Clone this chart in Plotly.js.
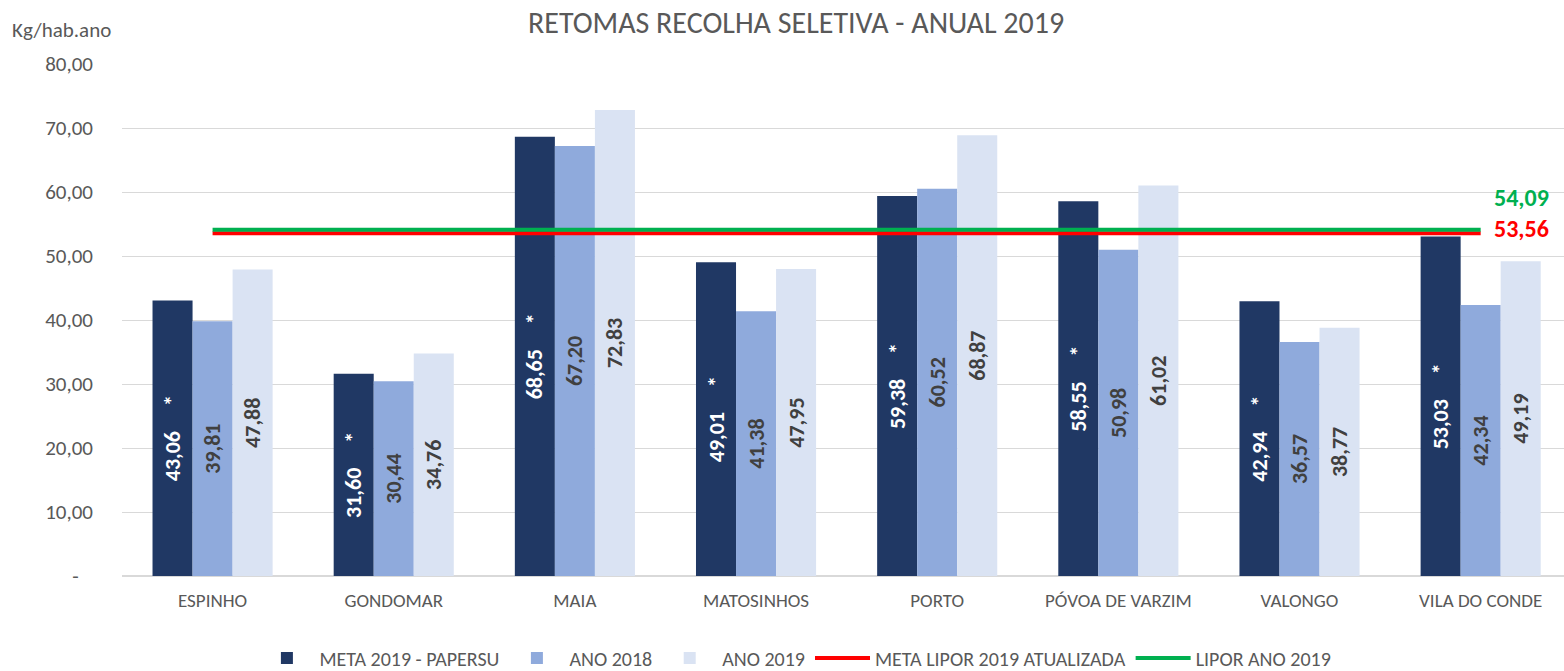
<!DOCTYPE html>
<html>
<head>
<meta charset="utf-8">
<script src="https://cdn.plot.ly/plotly-3.0.1.min.js"></script>
<style>html,body{margin:0;padding:0;background:#fff;}#chart{width:1564px;height:671px;}</style>
</head>
<body>
<div id="chart"></div>
<script>
const categories = ["ESPINHO","GONDOMAR","MAIA","MATOSINHOS","PORTO","PÓVOA DE VARZIM","VALONGO","VILA DO CONDE"];
const meta2019Papersu = [43.06, 31.60, 68.65, 49.01, 59.38, 58.55, 42.94, 53.03];
const ano2018 = [39.81, 30.44, 67.20, 41.38, 60.52, 50.98, 36.57, 42.34];
const ano2019 = [47.88, 34.76, 72.83, 47.95, 68.87, 61.02, 38.77, 49.19];
const metaLipor2019 = [53.56, 53.56, 53.56, 53.56, 53.56, 53.56, 53.56, 53.56];
const liporAno2019 = [54.09, 54.09, 54.09, 54.09, 54.09, 54.09, 54.09, 54.09];
const yTickVals = [0, 10, 20, 30, 40, 50, 60, 70, 80];
const yTickText = ["-\u00a0\u00a0\u00a0", "10,00", "20,00", "30,00", "40,00", "50,00", "60,00", "70,00", "80,00"];

const FONT = "Carlito, Lato, 'Open Sans', sans-serif";
const GRAY = "#595959";
const labelFont = (c) => ({family: FONT, size: 22, color: c, weight: 700});

const bar = (name, y, color, txtColor, tmpl) => ({
  type: "bar", name: name, x: categories, y: y,
  marker: {color: color, line: {width: 0}},
  texttemplate: tmpl, textposition: "inside", textangle: -90,
  insidetextanchor: "middle", constraintext: "none",
  insidetextfont: labelFont(txtColor), hoverinfo: "skip"
});

const traces = [
  bar("META 2019 - PAPERSU", meta2019Papersu, "#203864", "#ffffff", "%{y:.2f}\u00a0\u00a0\u00a0\u00a0\u00a0*"),
  bar("ANO 2018", ano2018, "#8FAADC", "#404040", "%{y:.2f}"),
  bar("ANO 2019", ano2019, "#DAE3F3", "#404040", "%{y:.2f}"),
  {type: "scatter", mode: "lines", name: "META LIPOR 2019 ATUALIZADA", x: categories, y: metaLipor2019,
   line: {color: "#FF0000", width: 4}, hoverinfo: "skip"},
  {type: "scatter", mode: "lines", name: "LIPOR ANO 2019", x: categories, y: liporAno2019,
   line: {color: "#00B050", width: 4}, hoverinfo: "skip"}
];

const last = categories.length - 1;
const fmt = (v) => v.toFixed(2).replace(".", ",");

const layout = {
  width: 1564, height: 671,
  margin: {l: 122, r: 0, t: 64, b: 95, autoexpand: false},
  paper_bgcolor: "#ffffff", plot_bgcolor: "#ffffff",
  separators: ",.",
  font: {family: FONT, color: GRAY},
  title: {text: "RETOMAS RECOLHA SELETIVA - ANUAL 2019", font: {family: FONT, size: 30, color: GRAY},
          x: 0.509, xanchor: "center", y: 0.967, yanchor: "middle"},
  barmode: "group", bargap: 0.337, bargroupgap: 0,
  xaxis: {type: "category", range: [-0.5, 7.46], showgrid: false, showline: false, zeroline: false,
          ticks: "", tickfont: {family: FONT, size: 19, color: GRAY}, ticklabelstandoff: 11, fixedrange: true},
  yaxis: {range: [0, 80], tickmode: "array", tickvals: yTickVals, ticktext: yTickText,
          showgrid: true, gridcolor: "#D9D9D9", gridwidth: 1,
          zeroline: true, zerolinecolor: "#D9D9D9", zerolinewidth: 1.5, showline: false,
          ticks: "", tickfont: {family: FONT, size: 21, color: GRAY}, ticklabelstandoff: 28, fixedrange: true},
  showlegend: true,
  legend: {orientation: "h", x: 0.467, xanchor: "center", y: -0.160, yanchor: "middle",
           font: {family: FONT, size: 20, color: GRAY}, itemgap: 50, itemwidth: 55,
           traceorder: "normal", tracegroupgap: 0},
  annotations: [
    {text: "Kg/hab.ano", xref: "paper", yref: "paper", x: -0.078, xanchor: "left", y: 1.066, yanchor: "middle",
     showarrow: false, font: {family: FONT, size: 21, color: GRAY}},
    {text: fmt(liporAno2019[last]), xref: "x", yref: "y", x: last, y: liporAno2019[last],
     xanchor: "left", yanchor: "middle", xshift: 11, yshift: 32, showarrow: false,
     font: {family: FONT, size: 24, color: "#00B050", weight: 700}},
    {text: fmt(metaLipor2019[last]), xref: "x", yref: "y", x: last, y: metaLipor2019[last],
     xanchor: "left", yanchor: "middle", xshift: 11, yshift: 5, showarrow: false,
     font: {family: FONT, size: 24, color: "#FF0000", weight: 700}}
  ]
};

Plotly.newPlot("chart", traces, layout, {staticPlot: true, displayModeBar: false});
</script>
</body>
</html>
